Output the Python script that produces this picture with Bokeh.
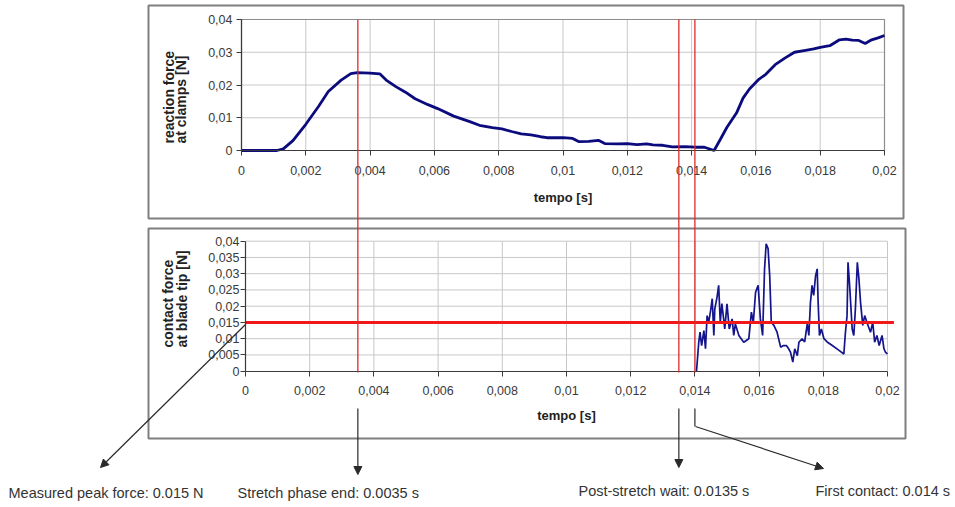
import math
from bokeh.plotting import figure
from bokeh.models import Range1d, LinearAxis, FixedTicker, Arrow, NormalHead
from bokeh.core.properties import value
from bokeh.embed import file_html
from bokeh.resources import INLINE

W, H = 955, 507
FONT = "Liberation Sans"

# ---------------- data ----------------
time_ticks = [0, 0.002, 0.004, 0.006, 0.008, 0.01, 0.012, 0.014, 0.016, 0.018, 0.02]
time_tick_labels = ["0", "0,002", "0,004", "0,006", "0,008", "0,01", "0,012", "0,014",
                    "0,016", "0,018", "0,02"]
reaction_ticks = [0, 0.01, 0.02, 0.03, 0.04]
reaction_tick_labels = ["0", "0,01", "0,02", "0,03", "0,04"]
contact_ticks = [0, 0.005, 0.01, 0.015, 0.02, 0.025, 0.03, 0.035, 0.04]
contact_tick_labels = ["0", "0,005", "0,01", "0,015", "0,02", "0,025", "0,03", "0,035", "0,04"]

reaction_t = [0, 0.0011, 0.0013, 0.0016, 0.0020, 0.0024, 0.0027, 0.0031, 0.0034, 0.0036,
              0.0040, 0.0043, 0.0045, 0.0048, 0.0051, 0.0054, 0.0058, 0.0061, 0.0066, 0.0071,
              0.0074, 0.0078, 0.0081, 0.0084, 0.0087, 0.0090, 0.0093, 0.0095, 0.0100, 0.0103,
              0.0105, 0.0108, 0.0111, 0.0113, 0.0117, 0.0120, 0.0123, 0.0126, 0.0128, 0.0131,
              0.0134, 0.0138, 0.0141, 0.0144, 0.0147, 0.0149, 0.0151, 0.0154, 0.0156, 0.0158,
              0.0161, 0.0163, 0.0166, 0.0169, 0.0172, 0.0175, 0.0178, 0.0180, 0.0183, 0.0186,
              0.0188, 0.0190, 0.0192, 0.0194, 0.0196, 0.0198, 0.0200]
reaction_f = [0, 0, 0.0005, 0.0030, 0.0080, 0.0135, 0.0180, 0.0215, 0.0235, 0.0238,
              0.0236, 0.0234, 0.0215, 0.0195, 0.0178, 0.0158, 0.0140, 0.0128, 0.0105, 0.0088,
              0.0077, 0.0070, 0.0066, 0.0058, 0.0051, 0.0048, 0.0042, 0.0039, 0.0039, 0.0037,
              0.0027, 0.0028, 0.0031, 0.0021, 0.0020, 0.0021, 0.0018, 0.0020, 0.0017, 0.0016,
              0.0011, 0.0012, 0.0010, 0.0010, 0.0000, 0.0035, 0.0071, 0.0115, 0.0160, 0.0188,
              0.0218, 0.0232, 0.0262, 0.0282, 0.0300, 0.0305, 0.0310, 0.0315, 0.0320, 0.0338,
              0.0340, 0.0337, 0.0336, 0.0327, 0.0338, 0.0344, 0.0351]

contact_t = [0.01405, 0.01412, 0.01416, 0.01421, 0.01428, 0.01433, 0.01438, 0.01443, 0.01449,
             0.01454, 0.01459, 0.01462, 0.01469, 0.01474, 0.01479, 0.01484, 0.01493, 0.01500,
             0.01507, 0.01516, 0.01521, 0.01526, 0.01537, 0.01552, 0.01568, 0.01576, 0.01582,
             0.01589, 0.01597, 0.01604, 0.01611, 0.01617, 0.01622, 0.01628, 0.01633, 0.01638,
             0.01646, 0.01656, 0.01667, 0.01676, 0.01685, 0.01692, 0.01698, 0.01705, 0.01711,
             0.01719, 0.01724, 0.01734, 0.01742, 0.01750, 0.01755, 0.01760, 0.01765, 0.01770,
             0.01776, 0.01781, 0.01784, 0.01788, 0.01794, 0.01802, 0.01812, 0.01828, 0.01849,
             0.01864, 0.01869, 0.01874, 0.01877, 0.01882, 0.01890, 0.01895, 0.01900, 0.01906,
             0.01911, 0.01916, 0.01923, 0.01929, 0.01936, 0.01947, 0.01954, 0.01960, 0.01967,
             0.01974, 0.01983, 0.01989, 0.01994, 0.02000]
contact_f = [0, 0.0089, 0.0120, 0.0079, 0.0125, 0.0069, 0.0171, 0.0150, 0.0187,
             0.0223, 0.0110, 0.0192, 0.0228, 0.0264, 0.0151, 0.0208, 0.0130, 0.0207,
             0.0130, 0.0161, 0.0110, 0.0145, 0.0110, 0.0089, 0.0100, 0.0182, 0.0150,
             0.0243, 0.0264, 0.0161, 0.0110, 0.0315, 0.0392, 0.0377, 0.0294, 0.0151,
             0.0141, 0.0120, 0.0074, 0.0079, 0.0079, 0.0069, 0.0058, 0.0028, 0.0069,
             0.0048, 0.0089, 0.0100, 0.0090, 0.0146, 0.0110, 0.0212, 0.0264, 0.0233,
             0.0294, 0.0315, 0.0210, 0.0110, 0.0130, 0.0100, 0.0090, 0.0079, 0.0064,
             0.0053, 0.0120, 0.0171, 0.0335, 0.0264, 0.0130, 0.0110, 0.0192, 0.0335,
             0.0284, 0.0212, 0.0141, 0.0171, 0.0150, 0.0120, 0.0150, 0.0089, 0.0110,
             0.0079, 0.0110, 0.0069, 0.0058, 0.0053]

peak_force = 0.015
stretch_end = 0.0035
post_wait = 0.0135
first_contact = 0.014

note_texts = ["Measured peak force: 0.015 N", "Stretch phase end: 0.0035 s",
              "Post-stretch wait: 0.0135 s", "First contact: 0.014 s"]
x_title = "tempo [s]"
top_y_title = ["reaction force", "at clamps [N]"]
bot_y_title = ["contact force", "at blade tip [N]"]


# ---------------- layout helpers ----------------
def span_range(v0, p0, v1, p1, size):
    k = (v1 - v0) / (p1 - p0)
    start = v0 - p0 * k
    return Range1d(start=start, end=start + size * k)


top_x = span_range(0, 241, 0.02, 884, W)
bot_x = span_range(0, 245, 0.02, 887, W)
top_y = span_range(0, H - 150, 0.04, H - 19, H)
bot_y = span_range(0, H - 370.7, 0.04, H - 240.7, H)

p = figure(width=W, height=H, x_range=top_x, y_range=top_y,
           x_axis_type=None, y_axis_type=None, toolbar_location=None,
           output_backend="svg", min_border=0, min_border_left=0, min_border_right=0,
           min_border_top=0, min_border_bottom=0, outline_line_color=None,
           background_fill_color="white", border_fill_color="white")
p.extra_x_ranges = {"bx": bot_x, "px": Range1d(0, W)}
p.extra_y_ranges = {"by": bot_y, "py": Range1d(H, 0)}

GRID = "#c8c8c8"
BORDER = "#7f7f7f"
INK = "#2a2a2a"

# panel boxes
p.quad(left=[148, 148], right=[903, 905], top=[5, 228], bottom=[218, 438],
       x_range_name="px", y_range_name="py", fill_color=None,
       line_color=BORDER, line_width=2)

# gridlines top panel
p.segment(x0=time_ticks[1:], x1=time_ticks[1:], y0=[0] * 10, y1=[reaction_ticks[-1]] * 10,
          line_color=GRID, line_width=1)
p.segment(x0=[0] * 4, x1=[time_ticks[-1]] * 4, y0=reaction_ticks[1:], y1=reaction_ticks[1:],
          line_color=GRID, line_width=1)
p.quad(left=[0], right=[time_ticks[-1]], bottom=[0], top=[reaction_ticks[-1]],
       fill_color=None, line_color="#8c8c8c", line_width=1.2)

# gridlines bottom panel
p.segment(x0=time_ticks[1:], x1=time_ticks[1:], y0=[0] * 10, y1=[contact_ticks[-1]] * 10,
          x_range_name="bx", y_range_name="by", line_color=GRID, line_width=1)
p.segment(x0=[0] * 8, x1=[time_ticks[-1]] * 8, y0=contact_ticks[1:], y1=contact_ticks[1:],
          x_range_name="bx", y_range_name="by", line_color=GRID, line_width=1)

# series
p.line(reaction_t, reaction_f, line_color="#0b0b7e", line_width=2.8)
p.line(contact_t, contact_f, x_range_name="bx", y_range_name="by",
       line_color="#14148c", line_width=1.7)

# peak force line
p.segment(x0=[0], x1=[time_ticks[-1] + 0.0002], y0=[peak_force], y1=[peak_force],
          x_range_name="bx", y_range_name="by", line_color="#f01818", line_width=3)


# axes
def make_axis(ticks, labels, bounds, xr, yr, standoff):
    ax = LinearAxis(ticker=FixedTicker(ticks=ticks, minor_ticks=[]),
                    major_label_overrides=dict(zip(ticks, labels)),
                    fixed_location=0, bounds=bounds,
                    x_range_name=xr, y_range_name=yr)
    ax.axis_line_color = "#3a3a3a"
    ax.axis_line_width = 1.2
    ax.major_tick_line_color = "#3a3a3a"
    ax.major_tick_out = 5
    ax.major_tick_in = 0
    ax.minor_tick_line_color = None
    ax.major_label_text_font = FONT
    ax.major_label_text_font_size = "12.5px"
    ax.major_label_text_color = "#3a3a3a"
    ax.major_label_standoff = standoff
    return ax


p.add_layout(make_axis(time_ticks, time_tick_labels, (0, 0.02), "default", "default", 10), "below")
p.add_layout(make_axis(time_ticks, time_tick_labels, (0, 0.02), "bx", "by", 10), "below")
p.add_layout(make_axis(reaction_ticks, reaction_tick_labels, (0, 0.04), "default", "default", 4), "left")
p.add_layout(make_axis(contact_ticks, contact_tick_labels, (0, 0.04), "bx", "by", 1), "left")

# red vertical markers (across both panels)
p.segment(x0=[stretch_end, post_wait, first_contact], x1=[stretch_end, post_wait, first_contact],
          y0=[19, 19, 19], y1=[372, 372, 372], x_range_name="bx", y_range_name="py",
          line_color="#dc2a2a", line_width=1.3, level="overlay")

# axis titles
p.text(x=[562.5, 566], y=[197, 415], text=[x_title, x_title], x_range_name="px", y_range_name="py",
       text_font=value(FONT), text_font_style="bold", text_font_size="13px",
       text_align="center", text_baseline="middle", text_color="#222222")
p.text(x=[168, 180], y=[143, 143], text=top_y_title, angle=math.pi / 2,
       x_range_name="px", y_range_name="py",
       text_font=value(FONT), text_font_style="bold", text_font_size="14px",
       text_align="left", text_baseline="middle", text_color="#222222")
p.text(x=[167.5, 181], y=[347, 347], text=bot_y_title, angle=math.pi / 2,
       x_range_name="px", y_range_name="py",
       text_font=value(FONT), text_font_style="bold", text_font_size="14px",
       text_align="left", text_baseline="middle", text_color="#222222")

# annotation arrows
def head():
    return NormalHead(size=8, fill_color=INK, line_color=INK, line_width=1)


p.add_layout(Arrow(x_start=245, y_start=324, x_end=100, y_end=467, end=head(),
                   x_range_name="px", y_range_name="py", line_color=INK, line_width=1.2))
p.add_layout(Arrow(x_start=stretch_end, y_start=408, x_end=stretch_end, y_end=474, end=head(),
                   x_range_name="bx", y_range_name="py", line_color=INK, line_width=1.2))
p.add_layout(Arrow(x_start=post_wait, y_start=408, x_end=post_wait, y_end=467, end=head(),
                   x_range_name="bx", y_range_name="py", line_color=INK, line_width=1.2))
p.line(x=[first_contact, first_contact], y=[408, 426], x_range_name="bx", y_range_name="py",
       line_color=INK, line_width=1.2)
p.add_layout(Arrow(x_start=695, y_start=426, x_end=823, y_end=468, end=head(),
                   x_range_name="px", y_range_name="py", line_color=INK, line_width=1.2))

# annotation texts
p.text(x=[8, 237, 578, 815], y=[492, 492, 490, 490], text=note_texts,
       x_range_name="px", y_range_name="py",
       text_font=value(FONT), text_font_size="14.5px", text_align="left",
       text_baseline="middle", text_color="#333333")

open("out.html", "w").write(file_html(p, INLINE))
